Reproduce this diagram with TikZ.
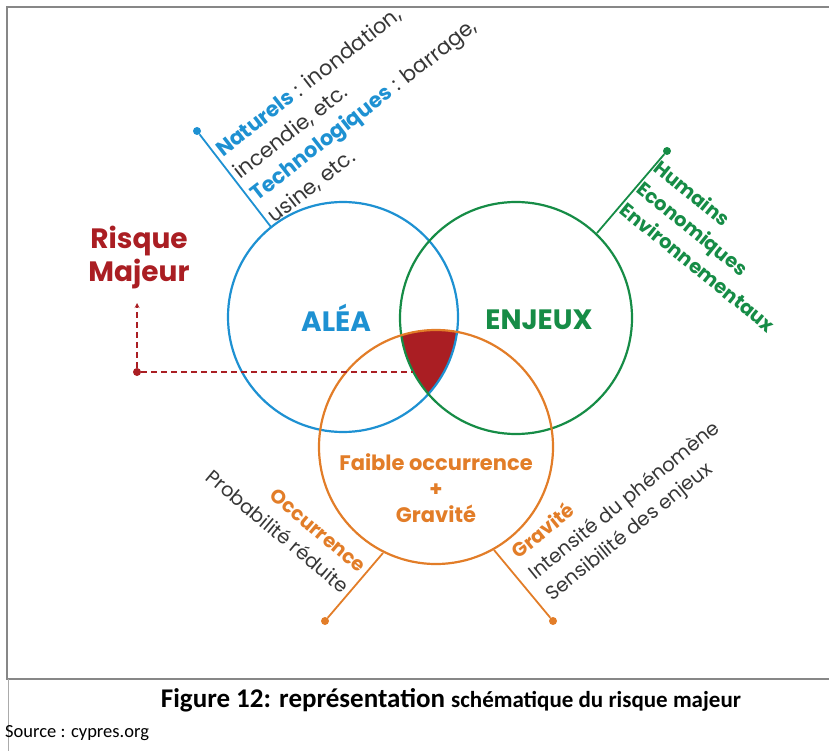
\documentclass[tikz,border=0pt]{standalone}
\usepackage{fontspec}
\setmainfont{Poppins}
\newfontfamily\capfont{Carlito}
\usetikzlibrary{positioning, arrows}

\definecolor{alea_blue}{RGB}{30,145,210}
\definecolor{enjeux_green}{RGB}{22,140,70}
\definecolor{occ_orange}{RGB}{226,125,40}
\definecolor{risk_red}{RGB}{170,30,35}
\definecolor{label_gray}{RGB}{55,55,55}
\definecolor{frame_gray}{RGB}{135,135,135}

\tikzset{
    circ_line/.style={line width=2.2pt},
    label_line/.style={line width=1.8pt},
    dot/.style={circle, fill, inner sep=0pt, minimum size=8pt},
    big_text/.style={font=\bfseries\fontsize{28}{33}\selectfont, align=center},
    side_text/.style={font=\fontsize{19.5}{27}\selectfont, align=left, inner sep=0pt, text=label_gray},
    dashed_line/.style={risk_red, dashed, line width=1.2pt, dash pattern=on 6pt off 4pt},
    dashed_arrow/.style={dashed_line, ->, >=stealth},
}

\begin{document}
\begin{tikzpicture}[x=1pt, y=-1pt]
      \useasboundingbox (0,0) rectangle (829,751);
      \draw [frame_gray, line width=2pt] (829,7) -- (7,7) -- (7,679) -- (829,679);
      \draw [frame_gray!70, line width=0.8pt] (8,679) -- (8,751);

      \coordinate (alea_c) at (343,317);
      \coordinate (enjeux_c) at (516,318);
      \coordinate (occ_c) at (436,447);

      \begin{scope}
        \clip (alea_c) circle [radius=115];
        \clip (enjeux_c) circle [radius=116];
        \fill [risk_red] (occ_c) circle [radius=117];
      \end{scope}

      \draw [circ_line, alea_blue] (alea_c) circle [radius=115];
      \draw [circ_line, enjeux_green] (enjeux_c) circle [radius=116];
      \draw [circ_line, occ_orange] (occ_c) circle [radius=117];

      \node (alea) [big_text, text=alea_blue] at (336,318) {ALÉA};
      \node (enjeux) [big_text, text=enjeux_green] at (539,320) {ENJEUX};
      \node (risque) [big_text, text=risk_red] at (139,258) {Risque\\Majeur};
      \node (faible) [font=\bfseries\fontsize{21}{26}\selectfont, text=occ_orange, align=center] at (436,488) {Faible occurrence\\+\\Gravité};

      \node (alea_dot) [dot, alea_blue] at (197,131) {};
      \node (enjeux_dot) [dot, enjeux_green] at (667,151) {};
      \node (occ_dot) [dot, occ_orange] at (325,621) {};
      \node (grav_dot) [dot, occ_orange] at (553,621) {};
      \node (risque_dot) [dot, risk_red] at (137,372) {};

      \coordinate (alea_edge) at (271,227);
      \coordinate (enjeux_edge) at (597,233);
      \coordinate (occ_edge) at (383,553);
      \coordinate (grav_edge) at (494,550);
      \coordinate (risque_top) at (137,303);
      \coordinate (risque_end) at (413,372);

      \draw [label_line, alea_blue] (alea_dot) -- (alea_edge);
      \draw [label_line, enjeux_green] (enjeux_dot) -- (enjeux_edge);
      \draw [label_line, occ_orange] (occ_dot) -- (occ_edge);
      \draw [label_line, occ_orange] (grav_dot) -- (grav_edge);
      \draw [dashed_line] (risque_dot) -- (risque_end);
      \draw [dashed_arrow] (risque_dot) -- (risque_top);

      \node (alea_text) [side_text, rotate=38, anchor=north west, font={\fontsize{21}{28}\selectfont}] at (213,145) {\textcolor{alea_blue}{\bfseries Naturels} : inondation,\\incendie, etc.\\\textcolor{alea_blue}{\bfseries Technologiques} : barrage,\\usine, etc.};
      \node (enjeux_text) [side_text, rotate=-39, anchor=north west, text=enjeux_green, font={\bfseries\fontsize{19.5}{27}\selectfont}] at (662,158) {Humains\\Economiques\\Environnementaux};
      \node (occ_text) [side_text, rotate=-40, anchor=north east, align=right] at (368,563) {\textcolor{occ_orange}{\bfseries Occurrence}\\Probabilité réduite};
      \node (grav_text) [side_text, rotate=39, anchor=north west] at (508,547) {\textcolor{occ_orange}{\bfseries Gravité}\\Intensité du phénomène\\Sensibilité des enjeux};

      \node (caption) at (451,700) {\capfont\bfseries\fontsize{27}{30}\selectfont Figure 12: représentation \fontsize{23}{30}\selectfont schématique du risque majeur};
      \node (source) [anchor=west, inner sep=0pt] at (5,733) {\capfont\fontsize{18.5}{22}\selectfont Source : cypres.org};
   \end{tikzpicture}
\end{document}
